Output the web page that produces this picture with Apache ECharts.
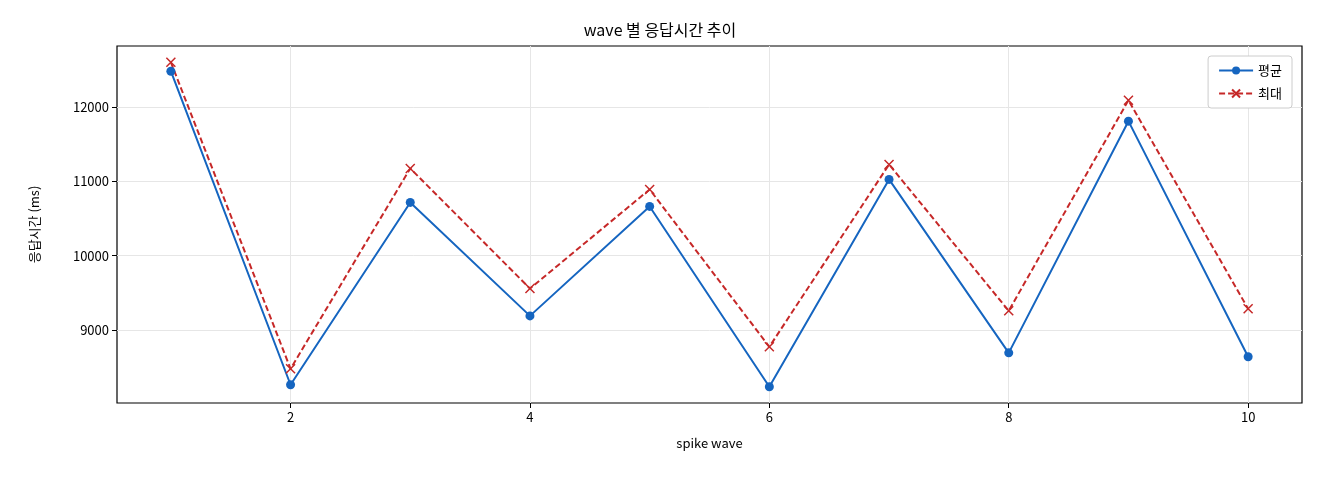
<!DOCTYPE html>
<html><head><meta charset="utf-8">
<script src="https://cdn.jsdelivr.net/npm/echarts@6/dist/echarts.min.js"></script>
<style>html,body{margin:0;padding:0;background:#fff}#c{width:1320px;height:480px}</style>
</head><body><div id="c"></div>
<script>
const waves = [1,2,3,4,5,6,7,8,9,10];
const avgValues = [12485,8260,10717,9188,10663,8233,11027,8690,11812,8637];
const maxValues = [12606,8475,11175,9556,10892,8771,11229,9256,12094,9283];
const xTicks = [2,4,6,8,10];
const yTicks = [9000,10000,11000,12000];
const F = '"Noto Sans CJK KR", "DejaVu Sans", sans-serif';
const cross = 'path://M0,0L10,10M10,0L0,10';
const chart = echarts.init(document.getElementById('c'));
chart.setOption({
  animation:false,
  title:{text:'wave 별 응답시간 추이',left:'center',top:17,textStyle:{fontFamily:F,fontSize:16,fontWeight:'normal',color:'#000'}},
  grid:{left:117,right:18,top:46,bottom:77,show:true,borderColor:'#000',borderWidth:1.2},
  legend:{right:28,top:56,orient:'vertical',itemWidth:34,itemHeight:10,itemGap:10,
    backgroundColor:'#fff',borderColor:'#ccc',borderWidth:1,borderRadius:3,padding:[8,10],
    textStyle:{fontFamily:F,fontSize:13,color:'#000'}},
  xAxis:{type:'value',min:0.55,max:10.45,name:'spike wave',nameLocation:'middle',nameGap:34,
    nameTextStyle:{fontFamily:F,fontSize:13,color:'#000'},
    axisLine:{show:false},
    axisTick:{show:true,length:5,lineStyle:{color:'#000'},customValues:xTicks},
    axisLabel:{fontFamily:F,fontSize:13,color:'#000',customValues:xTicks,formatter:v=>String(v)},
    splitLine:{show:true,lineStyle:{color:'#e6e6e6'}}},
  yAxis:{type:'value',min:8014,max:12825,name:'응답시간 (ms)',nameLocation:'middle',nameGap:76,
    nameTextStyle:{fontFamily:F,fontSize:13,color:'#000'},
    axisLine:{show:false},
    axisTick:{show:true,length:5,lineStyle:{color:'#000'},customValues:yTicks},
    axisLabel:{fontFamily:F,fontSize:13,color:'#000',customValues:yTicks,formatter:v=>String(v)},
    splitLine:{show:true,lineStyle:{color:'#e6e6e6'}}},
  series:[
    {name:'평균',type:'line',data:waves.map((w,i)=>[w,avgValues[i]]),symbol:'circle',symbolSize:9,
      lineStyle:{color:'#1565c0',width:2},itemStyle:{color:'#1565c0'}},
    {name:'최대',type:'line',data:waves.map((w,i)=>[w,maxValues[i]]),symbol:cross,symbolSize:9,
      lineStyle:{color:'#c62828',width:2,type:[6,3]},itemStyle:{color:'#c62828',borderColor:'#c62828',borderWidth:1.5}}
  ]
});
</script></body></html>
